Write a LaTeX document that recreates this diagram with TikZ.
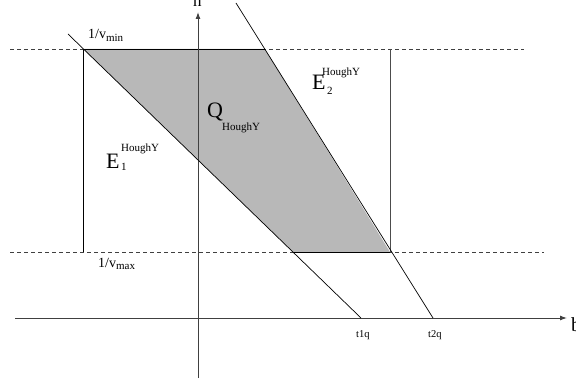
\documentclass[tikz,border=0pt]{standalone}
\usepackage{fontspec}
\setmainfont{Liberation Serif}
\usetikzlibrary{arrows.meta}
\tikzset{
  axis/.style={draw=black!75, line width=1pt, -{Latex[length=7pt,width=5pt]}},
  guide/.style={draw=black!75, line width=0.7pt, dash pattern=on 4pt off 3pt},
  edge/.style={draw=black, line width=0.7pt},
  vbar/.style={draw=black!70, line width=0.8pt},
  lbl/.style={inner sep=0pt, anchor=base west},
}
\begin{document}
\begin{tikzpicture}[x=1pt,y=-1pt]
\useasboundingbox (0,0) rectangle (576,385);
% key points
\coordinate (A) at (83,49);
\coordinate (B) at (265,49);
\coordinate (C) at (390,252);
\coordinate (D) at (293,252);
\coordinate (e1s) at (68,34);
\coordinate (t1) at (361,318);
\coordinate (e2s) at (236,3);
\coordinate (t2) at (433,318);
\coordinate (hl) at (15,318);
\coordinate (hr) at (567,318);
\coordinate (vb) at (198,378);
\coordinate (vt) at (198,12);
\coordinate (d1l) at (10,49);
\coordinate (d1r) at (524,49);
\coordinate (d2l) at (10,252);
\coordinate (d2r) at (544,252);
\coordinate (L1) at (83,252);
\coordinate (R1) at (390,49);
% shaded region
\fill[black!28] (A) -- (B) -- (C) -- (D) -- cycle;
% dashed guides
\draw[guide] (d1l) -- (d1r);
\draw[guide] (d2l) -- (d2r);
% verticals
\draw[edge] (A) -- (L1);
\draw[vbar] (R1) -- (C);
% top edge and bottom edge of region
\draw[edge] (A) -- (B);
\draw[edge] (D) -- (C);
% axes
\draw[axis] (hl) -- (hr);
\draw[axis] (vb) -- (vt);
% lines E1, E2
\draw[edge] (e1s) -- (t1);
\draw[edge] (e2s) -- (t2);
% labels
\node[lbl, font=\fontsize{14}{16}\selectfont] (vmin) at (88,39) {1/v\raisebox{-0.35ex}{\fontsize{11}{12}\selectfont min}};
\node[lbl, font=\fontsize{14}{16}\selectfont] (vmax) at (98,267) {1/v\raisebox{-0.35ex}{\fontsize{11}{12}\selectfont max}};
\node[lbl, font=\fontsize{22}{24}\selectfont] (Q) at (207,118) {Q};
\node[lbl, font=\fontsize{11}{12}\selectfont] (Qs) at (222,131) {HoughY};
\node[lbl, font=\fontsize{22}{24}\selectfont] (E1) at (106,168) {E};
\node[lbl, font=\fontsize{11}{12}\selectfont] (E1s) at (121,171) {1};
\node[lbl, font=\fontsize{11}{12}\selectfont] (E1p) at (121,152) {HoughY};
\node[lbl, font=\fontsize{22}{24}\selectfont] (E2) at (312,90) {E};
\node[lbl, font=\fontsize{11}{12}\selectfont] (E2s) at (327,95) {2};
\node[lbl, font=\fontsize{11}{12}\selectfont] (E2p) at (322,76) {HoughY};
\node[lbl, font=\fontsize{10.5}{12}\selectfont] (t1q) at (356,337) {t1q};
\node[lbl, font=\fontsize{10.5}{12}\selectfont] (t2q) at (428,337) {t2q};
\node[lbl, font=\fontsize{17}{18}\selectfont] (n) at (193,7) {n};
\node[lbl, font=\fontsize{20}{22}\selectfont] (b) at (571,331) {b};
\end{tikzpicture}
\end{document}
